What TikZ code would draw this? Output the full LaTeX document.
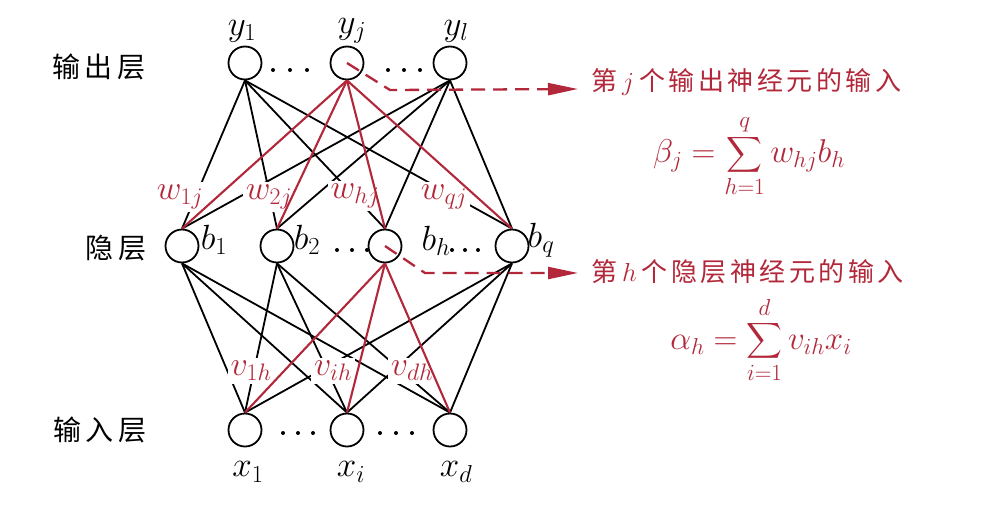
\RequirePackage{fix-cm}
\documentclass[tikz,border=0pt]{standalone}
\usepackage{exscale}
\usepackage{fontspec}
\newfontfamily\cjk{Noto Sans CJK SC}
\usetikzlibrary{arrows.meta}
\definecolor{myred}{RGB}{178,40,58}
\newcommand\ks{\kern3.5pt}
\newcommand\kl{\kern5pt}
\begin{document}
\begin{tikzpicture}[x=1pt,y=-1pt,
  neuron/.style={circle,draw,line width=1.8pt,minimum size=33pt,inner sep=0pt},
  blk/.style={line width=1.8pt},
  redl/.style={line width=2.1pt,draw=myred},
  mlab/.style={font=\fontsize{35}{40}\selectfont,inner sep=0pt},
  wlab/.style={font=\fontsize{34}{40}\selectfont,text=myred,fill=white,inner sep=3pt},
  layer/.style={font=\cjk\fontsize{28}{32}\selectfont,inner sep=0pt},
  note/.style={font=\cjk\fontsize{26}{32}\selectfont,text=myred,inner sep=0pt,anchor=west},
  formula/.style={font=\fontsize{33}{38}\selectfont,text=myred,inner sep=0pt},
  dashl/.style={draw=myred,line width=2.3pt,dash pattern=on 14pt off 8pt},
  tipr/.style={-{Triangle[length=30pt,width=12pt]}}
]
\fill[white] (0,0) rectangle (988,509);
\useasboundingbox (0,0) rectangle (988,509);

% neurons
\node[neuron] (y1) at (245,63) {};
\node[neuron] (yj) at (347,63) {};
\node[neuron] (yl) at (450,63) {};
\node[neuron] (b1) at (182,246) {};
\node[neuron] (b2) at (277,246) {};
\node[neuron] (bh) at (385,246) {};
\node[neuron] (bq) at (512,246) {};
\node[neuron] (x1) at (245,430) {};
\node[neuron] (xi) at (347,430) {};
\node[neuron] (xd) at (450,430) {};

% black connections
\foreach \o in {y1,yl} \foreach \h in {b1,b2,bh,bq} \draw[blk] (\o.south) -- (\h.north);
\foreach \h in {b1,b2,bq} \foreach \i in {x1,xi,xd} \draw[blk] (\h.south) -- (\i.north);

% weight labels
\node[wlab] (w1) at (180,197) {$w_{1j}$};
\node[wlab] (w2) at (269,197) {$w_{2j}$};
\node[wlab] (wh) at (355,196) {$w_{hj}$};
\node[wlab] (wq) at (444,197) {$w_{qj}$};
\node[wlab] (v1) at (251,371) {$v_{1h}$};
\node[wlab] (vi) at (333,371) {$v_{ih}$};
\node[wlab] (vd) at (412,371) {$v_{dh}$};

% red connections
\foreach \h in {b1,b2,bh,bq} \draw[redl] (yj.south) -- (\h.north);
\foreach \i in {x1,xi,xd} \draw[redl] (bh.south) -- (\i.north);

% node labels
\node[mlab] (ly1) at (242,31) {$y_1$};
\node[mlab] (lyj) at (352,31) {$y_j$};
\node[mlab] (lyl) at (456,31) {$y_l$};
\node[mlab] (lb1) at (214,240) {$b_1$};
\node[mlab] (lb2) at (307,240) {$b_2$};
\node[mlab] (lbh) at (436,241) {$b_h$};
\node[mlab] (lbq) at (541,240) {$b_q$};
\node[mlab] (lx1) at (248,472) {$x_1$};
\node[mlab] (lxi) at (351,472) {$x_i$};
\node[mlab] (lxd) at (456,472) {$x_d$};

% dots
\foreach \x in {273,290,307,388,404,420} \fill (\x,70) circle (2pt);
\foreach \x in {337,352,367,452,465,478} \fill (\x,250) circle (2pt);
\foreach \x in {283,298,313,380,396,412} \fill (\x,433) circle (2pt);

% layer names
\node[layer] (lo) at (99,67) {输\kl 出\kl 层};
\node[layer] (lh) at (116,248) {隐\kl 层};
\node[layer] (li) at (100,430) {输\kl 入\kl 层};

% annotations
\coordinate (c1) at (390,90);
\coordinate (t1) at (578,89);
\draw[dashl,tipr] (yj.center) -- (c1) -- (t1);
\coordinate (c2) at (425,273);
\coordinate (t2) at (578,273);
\draw[dashl,tipr] (bh.center) -- (c2) -- (t2);

\node[note] (n1) at (591,82) {第\kl$j$\kl 个\ks 输\ks 出\ks 神\ks 经\ks 元\ks 的\ks 输\ks 入};
\node[note] (n2) at (591,272) {第\kl$h$\kl 个\ks 隐\ks 层\ks 神\ks 经\ks 元\ks 的\ks 输\ks 入};

\node[formula] (f1) at (749,156) {$\displaystyle \beta_j=\sum_{h=1}^{q} w_{hj}b_h$};
\node[formula] (f2) at (761,340) {$\displaystyle \alpha_h=\sum_{i=1}^{d} v_{ih}x_i$};
\end{tikzpicture}
\end{document}
